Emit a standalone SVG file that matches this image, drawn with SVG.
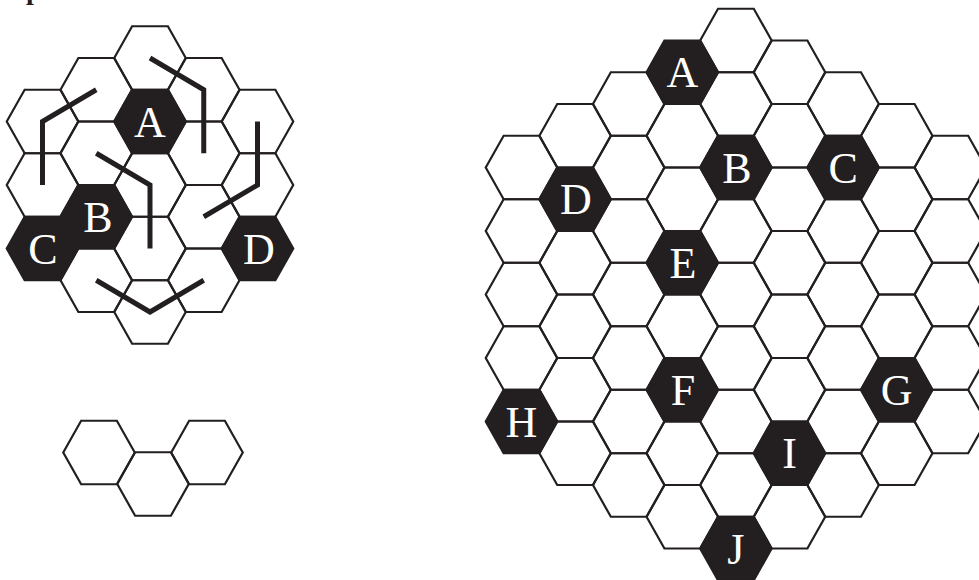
<svg xmlns="http://www.w3.org/2000/svg" xmlns:xlink="http://www.w3.org/1999/xlink" width="979" height="580" viewBox="0 0 979 580">
<style>
.w{fill:none;stroke:#231f20;stroke-width:2.2;stroke-linejoin:miter}
.b{fill:#231f20;stroke:#231f20;stroke-width:2.2}
.t{fill:#fff;font-family:"Liberation Serif","Times New Roman",serif;font-size:44px;text-anchor:middle}
.p{fill:none;stroke:#231f20;stroke-width:5;stroke-linejoin:miter;stroke-linecap:butt}
</style>
<defs>
<polygon id="hx" points="-35.75,0 -17.875,-31.75 17.875,-31.75 35.75,0 17.875,31.75 -17.875,31.75"/>
</defs>
<rect width="979" height="580" fill="#fff"/>
<text x="26" y="-1" font-family="Liberation Serif,serif" font-weight="bold" font-size="28" fill="#231f20">p</text>

<!-- Left board -->
<g id="left-board">
<g id="L-m2-0"><use href="#hx" class="w" x="42.5" y="121.5"/></g>
<g id="L-m2-1"><use href="#hx" class="w" x="42.5" y="185"/></g>
<g id="L-m1-0"><use href="#hx" class="w" x="96.25" y="89.75"/></g>
<g id="L-m1-1"><use href="#hx" class="w" x="96.25" y="153.25"/></g>
<g id="L-m1-3"><use href="#hx" class="w" x="96.25" y="280.25"/></g>
<g id="L-0-0"><use href="#hx" class="w" x="150" y="58"/></g>
<g id="L-0-2"><use href="#hx" class="w" x="150" y="185"/></g>
<g id="L-0-3"><use href="#hx" class="w" x="150" y="248.5"/></g>
<g id="L-0-4"><use href="#hx" class="w" x="150" y="312"/></g>
<g id="L-p1-0"><use href="#hx" class="w" x="203.75" y="89.75"/></g>
<g id="L-p1-1"><use href="#hx" class="w" x="203.75" y="153.25"/></g>
<g id="L-p1-2"><use href="#hx" class="w" x="203.75" y="216.75"/></g>
<g id="L-p1-3"><use href="#hx" class="w" x="203.75" y="280.25"/></g>
<g id="L-p2-0"><use href="#hx" class="w" x="257.5" y="121.5"/></g>
<g id="L-p2-1"><use href="#hx" class="w" x="257.5" y="185"/></g>
<g id="L-A"><use href="#hx" class="b" x="150" y="121.5"/><text class="t" x="150" y="136.5">A</text></g>
<g id="L-B"><use href="#hx" class="b" x="96.25" y="216.75"/><text class="t" x="98" y="231.75">B</text></g>
<g id="L-C"><use href="#hx" class="b" x="42.5" y="248.5"/><text class="t" x="43" y="263.5">C</text></g>
<g id="L-D"><use href="#hx" class="b" x="257.5" y="248.5"/><text class="t" x="259" y="263.5">D</text></g>
</g>
<g id="connectors">
<polyline class="p" points="150,58 203.75,89.75 203.75,153.25"/>
<polyline class="p" points="96.25,89.75 42.5,121.5 42.5,185"/>
<polyline class="p" points="96.25,153.25 150,185 150,248.5"/>
<polyline class="p" points="257.5,121.5 257.5,185 203.75,216.75"/>
<polyline class="p" points="96.25,280.25 150,312 203.75,280.25"/>
</g>

<!-- Small three-hex figure -->
<g id="small">
<g id="S-1"><use href="#hx" class="w" x="99" y="452.5"/></g>
<g id="S-2"><use href="#hx" class="w" x="153" y="484"/></g>
<g id="S-3"><use href="#hx" class="w" x="207" y="452.5"/></g>
</g>

<!-- Right board -->
<g id="right-board">
<g id="R-0-0"><use href="#hx" class="w" x="521.5" y="167.5"/></g>
<g id="R-0-1"><use href="#hx" class="w" x="521.5" y="231"/></g>
<g id="R-0-2"><use href="#hx" class="w" x="521.5" y="294.5"/></g>
<g id="R-0-3"><use href="#hx" class="w" x="521.5" y="358"/></g>
<g id="R-1-0"><use href="#hx" class="w" x="575.1" y="135.75"/></g>
<g id="R-1-2"><use href="#hx" class="w" x="575.1" y="262.75"/></g>
<g id="R-1-3"><use href="#hx" class="w" x="575.1" y="326.25"/></g>
<g id="R-1-4"><use href="#hx" class="w" x="575.1" y="389.75"/></g>
<g id="R-1-5"><use href="#hx" class="w" x="575.1" y="453.25"/></g>
<g id="R-2-0"><use href="#hx" class="w" x="628.7" y="104"/></g>
<g id="R-2-1"><use href="#hx" class="w" x="628.7" y="167.5"/></g>
<g id="R-2-2"><use href="#hx" class="w" x="628.7" y="231"/></g>
<g id="R-2-3"><use href="#hx" class="w" x="628.7" y="294.5"/></g>
<g id="R-2-4"><use href="#hx" class="w" x="628.7" y="358"/></g>
<g id="R-2-5"><use href="#hx" class="w" x="628.7" y="421.5"/></g>
<g id="R-2-6"><use href="#hx" class="w" x="628.7" y="485"/></g>
<g id="R-3-1"><use href="#hx" class="w" x="682.3" y="135.75"/></g>
<g id="R-3-2"><use href="#hx" class="w" x="682.3" y="199.25"/></g>
<g id="R-3-4"><use href="#hx" class="w" x="682.3" y="326.25"/></g>
<g id="R-3-6"><use href="#hx" class="w" x="682.3" y="453.25"/></g>
<g id="R-3-7"><use href="#hx" class="w" x="682.3" y="516.75"/></g>
<g id="R-4-0"><use href="#hx" class="w" x="735.9" y="40.5"/></g>
<g id="R-4-1"><use href="#hx" class="w" x="735.9" y="104"/></g>
<g id="R-4-3"><use href="#hx" class="w" x="735.9" y="231"/></g>
<g id="R-4-4"><use href="#hx" class="w" x="735.9" y="294.5"/></g>
<g id="R-4-5"><use href="#hx" class="w" x="735.9" y="358"/></g>
<g id="R-4-6"><use href="#hx" class="w" x="735.9" y="421.5"/></g>
<g id="R-4-7"><use href="#hx" class="w" x="735.9" y="485"/></g>
<g id="R-5-0"><use href="#hx" class="w" x="789.5" y="72.25"/></g>
<g id="R-5-1"><use href="#hx" class="w" x="789.5" y="135.75"/></g>
<g id="R-5-2"><use href="#hx" class="w" x="789.5" y="199.25"/></g>
<g id="R-5-3"><use href="#hx" class="w" x="789.5" y="262.75"/></g>
<g id="R-5-4"><use href="#hx" class="w" x="789.5" y="326.25"/></g>
<g id="R-5-5"><use href="#hx" class="w" x="789.5" y="389.75"/></g>
<g id="R-5-7"><use href="#hx" class="w" x="789.5" y="516.75"/></g>
<g id="R-6-0"><use href="#hx" class="w" x="843.1" y="104"/></g>
<g id="R-6-2"><use href="#hx" class="w" x="843.1" y="231"/></g>
<g id="R-6-3"><use href="#hx" class="w" x="843.1" y="294.5"/></g>
<g id="R-6-4"><use href="#hx" class="w" x="843.1" y="358"/></g>
<g id="R-6-5"><use href="#hx" class="w" x="843.1" y="421.5"/></g>
<g id="R-6-6"><use href="#hx" class="w" x="843.1" y="485"/></g>
<g id="R-7-0"><use href="#hx" class="w" x="896.7" y="135.75"/></g>
<g id="R-7-1"><use href="#hx" class="w" x="896.7" y="199.25"/></g>
<g id="R-7-2"><use href="#hx" class="w" x="896.7" y="262.75"/></g>
<g id="R-7-3"><use href="#hx" class="w" x="896.7" y="326.25"/></g>
<g id="R-7-5"><use href="#hx" class="w" x="896.7" y="453.25"/></g>
<g id="R-8-0"><use href="#hx" class="w" x="950.3" y="167.5"/></g>
<g id="R-8-1"><use href="#hx" class="w" x="950.3" y="231"/></g>
<g id="R-8-2"><use href="#hx" class="w" x="950.3" y="294.5"/></g>
<g id="R-8-3"><use href="#hx" class="w" x="950.3" y="358"/></g>
<g id="R-8-4"><use href="#hx" class="w" x="950.3" y="421.5"/></g>
<g id="R-A"><use href="#hx" class="b" x="682.3" y="72.25"/><text class="t" x="682.3" y="87.25">A</text></g>
<g id="R-B"><use href="#hx" class="b" x="735.9" y="167.5"/><text class="t" x="737" y="182.5">B</text></g>
<g id="R-C"><use href="#hx" class="b" x="843.1" y="167.5"/><text class="t" x="843.1" y="182.5">C</text></g>
<g id="R-D"><use href="#hx" class="b" x="575.1" y="199.25"/><text class="t" x="576" y="214.25">D</text></g>
<g id="R-E"><use href="#hx" class="b" x="682.3" y="262.75"/><text class="t" x="683" y="277.75">E</text></g>
<g id="R-F"><use href="#hx" class="b" x="682.3" y="389.75"/><text class="t" x="683" y="404.75">F</text></g>
<g id="R-G"><use href="#hx" class="b" x="896.7" y="389.75"/><text class="t" x="896.7" y="404.75">G</text></g>
<g id="R-H"><use href="#hx" class="b" x="521.5" y="421.5"/><text class="t" x="521.5" y="436.5">H</text></g>
<g id="R-I"><use href="#hx" class="b" x="789.5" y="453.25"/><text class="t" x="789.5" y="468.25">I</text></g>
<g id="R-J"><use href="#hx" class="b" x="735.9" y="548.5"/><text class="t" x="735.9" y="563.5">J</text></g>
</g>
</svg>
